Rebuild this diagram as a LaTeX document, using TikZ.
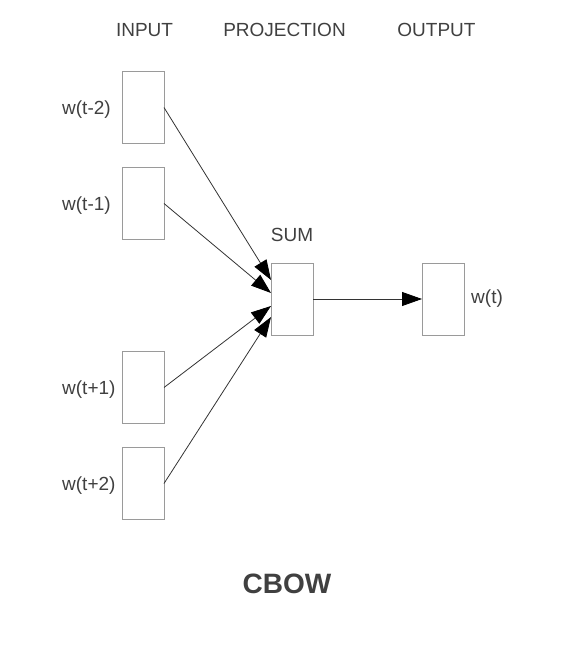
\documentclass[tikz,border=0pt]{standalone}
\usepackage{fontspec}
\setmainfont{Liberation Sans}
\usepackage{tikz}
\usetikzlibrary{positioning,arrows.meta}
\definecolor{boxc}{HTML}{9A9A9A}
\definecolor{txtc}{HTML}{404040}
\definecolor{arrc}{HTML}{333333}
\tikzset{
  box/.style={draw=boxc, line width=1pt, fill=white, inner sep=0pt, outer sep=0pt,
              minimum width=42pt, minimum height=72pt},
  arr/.style={-{Triangle[length=20pt,width=14pt,color=black]}, draw=arrc, line width=0.8pt},
  lbl/.style={font=\fontsize{19}{22}\selectfont, text=txtc, inner sep=0pt},
  hdr/.style={lbl},
  ttl/.style={font=\fontsize{28}{32}\selectfont\bfseries, text=txtc, inner sep=0pt},
}
\begin{document}
\begin{tikzpicture}[x=1pt, y=-1pt, node distance=24pt and 10pt]
  \useasboundingbox (0,0) rectangle (563,652);
  % headers
  \node[hdr] (hin)   at (144.5,30) {INPUT};
  \node[hdr] (hproj) at (284.5,30) {PROJECTION};
  \node[hdr] (hout)  at (436.5,30) {OUTPUT};

  % input layer
  \node[box] (in1) at (143,107.5) {};
  \node[box, below=of in1] (in2) {};
  \node[box, below=112pt of in2] (in3) {};
  \node[box, below=of in3] (in4) {};
  \node[lbl, anchor=west, yshift=-2.5pt] (l1) at (62,0 |- in1) {w(t-2)};
  \node[lbl, anchor=west, yshift=-2.5pt] (l2) at (62,0 |- in2) {w(t-1)};
  \node[lbl, anchor=west, yshift=-2.5pt] (l3) at (62,0 |- in3) {w(t+1)};
  \node[lbl, anchor=west, yshift=-2.5pt] (l4) at (62,0 |- in4) {w(t+2)};

  % projection and output
  \node[box] (sum) at (292,299) {};
  \node[lbl, above=21pt of sum] (lsum) {SUM};
  \node[box, right=109pt of sum] (out) {};
  \node[lbl, right=7pt of out] (lout) {w(t)};

  \draw[arr] (in1.east) -- ([yshift=19pt]sum.west);
  \draw[arr] (in2.east) -- ([yshift=6pt]sum.west);
  \draw[arr] (in3.east) -- ([yshift=-7pt]sum.west);
  \draw[arr] (in4.east) -- ([yshift=-18pt]sum.west);
  \draw[arr] (sum.east) -- (out.west);

  \node[ttl] (title) at (287,584) {CBOW};
\end{tikzpicture}
\end{document}
